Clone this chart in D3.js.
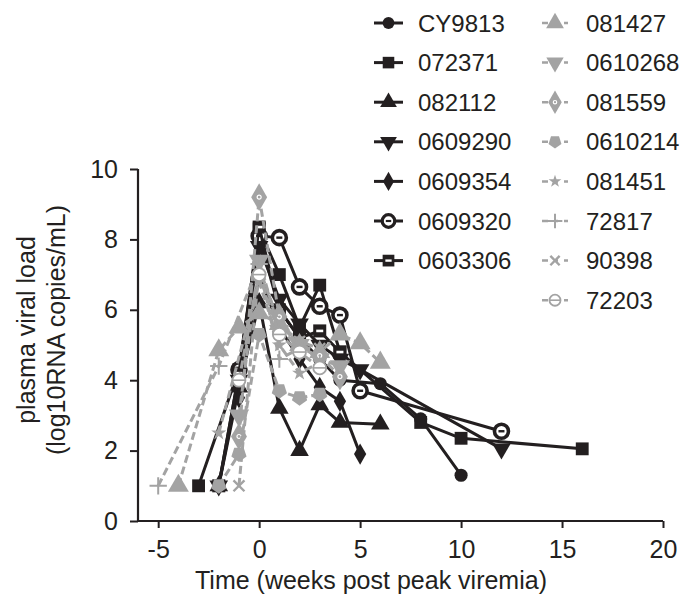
<!DOCTYPE html>
<html>
<head>
<meta charset="utf-8">
<script src="https://cdn.jsdelivr.net/npm/d3@7"></script>
<style>
  html, body { margin: 0; padding: 0; background: #fff; }
  svg { display: block; font-family: "Liberation Sans", Arial, sans-serif; }
</style>
</head>
<body>
<svg id="chart" width="681" height="597"></svg>
<script>
// ---------- DATA ----------
const xTicks = [-5, 0, 5, 10, 15, 20];
const yTicks = [0, 2, 4, 6, 8, 10];

const blackNames = ["CY9813", "072371", "082112", "0609290", "0609354", "0609320", "0603306"];
const grayNames  = ["081427", "0610268", "081559", "0610214", "081451", "72817", "90398", "72203"];

// [week, log10 viral load]
const s_CY9813  = [[-2,1.0],[-1,4.2],[0,8.1],[1,6.0],[2,5.2],[3,4.6],[4,4.0],[6,3.9],[8,2.9],[10,1.3]];
const s_072371  = [[-3,1.0],[-1,4.3],[0,8.3],[1,7.0],[2,5.5],[3,6.7],[4,4.8],[8,2.8],[10,2.35],[16,2.05]];
const s_082112  = [[-2,1.0],[-1,3.8],[0,6.2],[1,3.2],[2,2.0],[3,3.3],[4,2.8],[6,2.75]];
const s_0609290 = [[-2,1.0],[-1,4.0],[0,7.8],[1,6.3],[2,5.6],[3,5.0],[4,4.6],[5,4.3],[12,2.05]];
const s_0609354 = [[-1,3.5],[0,7.0],[1,5.5],[2,4.6],[3,3.8],[4,3.4],[5,1.9]];
const s_0609320 = [[-1,4.3],[0,8.1],[1,8.05],[2,6.65],[3,6.1],[4,5.85],[5,3.7],[12,2.55]];
const s_0603306 = [[-2,1.0],[-1,4.2],[0,8.35],[1,6.0],[2,5.2],[3,5.4],[4,4.8]];

const s_081427  = [[-4,1.0],[-2,4.85],[-1,5.5],[0,5.9],[1,5.6],[2,5.0],[3,4.8],[4,5.3],[5,5.05],[6,4.5]];
const s_0610268 = [[-1,3.0],[0,7.4],[1,5.4],[2,5.0],[3,4.6],[4,4.4]];
const s_081559  = [[-1,2.4],[0,9.2],[1,5.8],[2,4.9],[3,4.7],[4,4.1]];
const s_0610214 = [[-2,1.0],[-1,1.9],[0,5.3],[1,3.7],[2,3.5],[3,3.6]];
const s_081451  = [[-2,2.5],[0,6.8],[1,5.0],[2,4.2],[3,4.5]];
const s_72817   = [[-5,1.0],[-2,4.4],[0,7.3],[1,4.6],[2,4.9]];
const s_90398   = [[-1,1.0],[0,7.2],[1,5.6],[2,5.1],[3,4.9]];
const s_72203   = [[-1,4.0],[0,7.0],[1,5.3],[2,4.8],[3,4.35]];

const blackData = [s_CY9813, s_072371, s_082112, s_0609290, s_0609354, s_0609320, s_0603306];
const grayData  = [s_081427, s_0610268, s_081559, s_0610214, s_081451, s_72817, s_90398, s_72203];

// ---------- STYLE ----------
const BLACK = "#231f20";
const GRAY = "#a3a3a3";
const blackMarkers = ["circle", "square", "triangle", "triDown", "diamond", "ring", "stripeSquare"];
const grayMarkers  = ["triangleG", "triDownG", "diamondDot", "pentagon", "star", "plus", "times", "ringLine"];

const svg = d3.select("#chart");

const x = d3.scaleLinear().domain([-6, 20]).range([138, 663]);
const y = d3.scaleLinear().domain([0, 10]).range([521, 169]);

// axes
const xAxis = d3.axisBottom(x).tickValues(xTicks).tickSize(7).tickPadding(12).tickFormat(d => String(d));
const yAxis = d3.axisLeft(y).tickValues(yTicks).tickSize(8).tickPadding(12).tickFormat(d => String(d));

const gx = svg.append("g").attr("transform", "translate(0,521)").call(xAxis);
const gy = svg.append("g").attr("transform", "translate(138,0)").call(yAxis);
[gx, gy].forEach(g => {
  g.select(".domain").attr("stroke", BLACK).attr("stroke-width", 2.2);
  g.selectAll(".tick line").attr("stroke", BLACK).attr("stroke-width", 2);
  g.selectAll(".tick text").attr("fill", BLACK).attr("font-size", 25)
    .attr("font-family", "Liberation Sans, Arial, sans-serif");
});
gx.select(".domain").attr("d", "M138,0H663");
gy.select(".domain").attr("d", "M0,521V169");

// axis titles
svg.append("text").attr("x", 371).attr("y", 589).attr("text-anchor", "middle")
  .attr("font-size", 25).attr("fill", BLACK).text("Time (weeks post peak viremia)");
const yt = svg.append("g").attr("transform", "translate(0,330) rotate(-90)");
yt.append("text").attr("x", 0).attr("y", 35).attr("text-anchor", "middle")
  .attr("font-size", 25).attr("fill", BLACK).text("plasma viral load");
yt.append("text").attr("x", 0).attr("y", 65).attr("text-anchor", "middle")
  .attr("font-size", 25).attr("fill", BLACK).text("(log10RNA copies/mL)");

// ---------- MARKERS ----------
function drawMarker(g, type, color, cx, cy, s) {
  const k = s || 1;
  const m = g.append("g").attr("transform", `translate(${cx},${cy})`);
  const sym = (t, area, rot) => m.append("path")
    .attr("d", d3.symbol(t, area * k * k)())
    .attr("transform", rot ? `rotate(${rot})` : null)
    .attr("fill", color);
  switch (type) {
    case "circle": sym(d3.symbolCircle, 135); break;
    case "square": sym(d3.symbolSquare, 165); break;
    case "triangle": sym(d3.symbolTriangle, 150); break;
    case "triDown": sym(d3.symbolTriangle, 150, 180); break;
    case "triangleG": sym(d3.symbolTriangle, 190); break;
    case "triDownG": sym(d3.symbolTriangle, 180, 180); break;
    case "diamond": sym(d3.symbolDiamond, 130); break;
    case "ring":
      m.append("circle").attr("r", 7 * k).attr("fill", "#fff").attr("stroke", color).attr("stroke-width", 3.6 * k);
      m.append("rect").attr("x", -3 * k).attr("y", -1.2 * k).attr("width", 6 * k).attr("height", 2.4 * k).attr("fill", color);
      break;
    case "stripeSquare":
      sym(d3.symbolSquare, 170);
      m.append("rect").attr("x", -3.5 * k).attr("y", -1.3 * k).attr("width", 7 * k).attr("height", 2.6 * k).attr("fill", "#fff");
      break;
    case "diamondDot":
      sym(d3.symbolDiamond, 220);
      m.append("circle").attr("r", 2 * k).attr("fill", "none").attr("stroke", "#fff").attr("stroke-width", 1.2);
      break;
    case "pentagon": {
      const r = 8 * k;
      const pts = d3.range(5).map(i => {
        const a = Math.PI / 2 + i * 2 * Math.PI / 5;
        return [r * Math.cos(a), r * Math.sin(a)];
      });
      m.append("path").attr("d", "M" + pts.join("L") + "Z").attr("fill", color);
      break;
    }
    case "star": sym(d3.symbolStar, 70); break;
    case "plus":
      m.append("path").attr("d", d3.symbol(d3.symbolPlus, 100 * k * k)())
        .attr("fill", "none").attr("stroke", color).attr("stroke-width", 2);
      break;
    case "times":
      m.append("path").attr("d", d3.symbol(d3.symbolTimes, 80 * k * k)())
        .attr("fill", "none").attr("stroke", color).attr("stroke-width", 2.4);
      break;
    case "ringLine":
      m.append("circle").attr("r", 6.5 * k).attr("fill", "#fff").attr("stroke", color).attr("stroke-width", 1.8);
      m.append("line").attr("x1", -6.5 * k).attr("x2", 6.5 * k).attr("stroke", color).attr("stroke-width", 1.6);
      break;
  }
}

const line = d3.line().x(d => x(d[0])).y(d => y(d[1]));
const plot = svg.append("g");

function drawSeries(data, color, dashed, marker) {
  const g = plot.append("g");
  g.append("path").datum(data).attr("d", line).attr("fill", "none")
    .attr("stroke", color).attr("stroke-width", 3)
    .attr("stroke-dasharray", dashed ? "8,4" : null)
    .attr("stroke-linejoin", "round");
  data.forEach(d => drawMarker(g, marker, color, x(d[0]), y(d[1]), 1));
}

blackData.forEach((d, i) => drawSeries(d, BLACK, false, blackMarkers[i]));
grayData.forEach((d, i) => drawSeries(d, GRAY, true, grayMarkers[i]));

// ---------- LEGEND ----------
const leg = svg.append("g");
const rowY = i => 23 + i * 39.6;
blackNames.forEach((n, i) => {
  const cy = rowY(i);
  leg.append("line").attr("x1", 374).attr("x2", 403).attr("y1", cy).attr("y2", cy)
    .attr("stroke", BLACK).attr("stroke-width", 3);
  drawMarker(leg, blackMarkers[i], BLACK, 388.5, cy, 0.9);
  leg.append("text").attr("x", 418).attr("y", cy + 8.5).attr("font-size", 24)
    .attr("fill", BLACK).text(n);
});
grayNames.forEach((n, i) => {
  const cy = rowY(i);
  leg.append("line").attr("x1", 542).attr("x2", 568).attr("y1", cy).attr("y2", cy)
    .attr("stroke", GRAY).attr("stroke-width", 2.5).attr("stroke-dasharray", "6,4,0,4,2");
  drawMarker(leg, grayMarkers[i], GRAY, 555, cy, 0.85);
  leg.append("text").attr("x", 586).attr("y", cy + 8.5).attr("font-size", 24)
    .attr("fill", BLACK).text(n);
});
</script>
</body>
</html>
